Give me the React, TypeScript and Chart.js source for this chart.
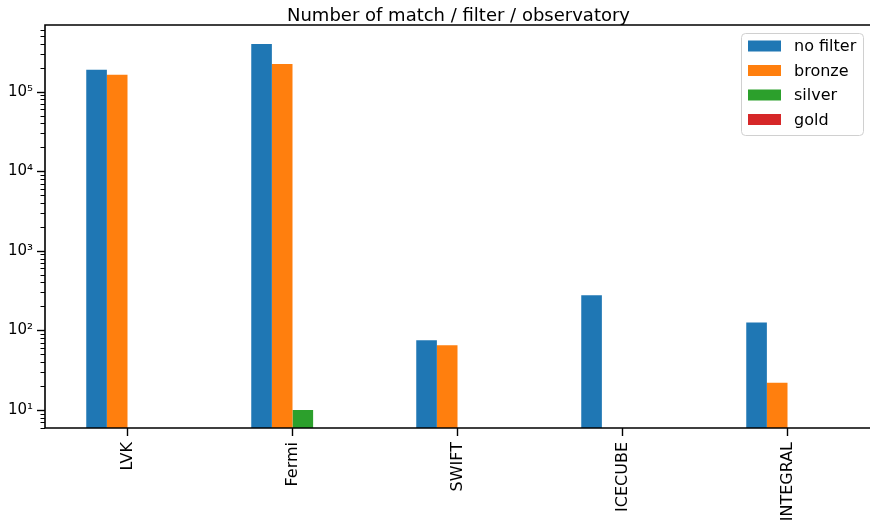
import React, { useEffect, useRef } from 'react';
import { Chart, registerables } from 'chart.js';

Chart.register(...registerables);

const categories = ['LVK', 'Fermi', 'SWIFT', 'ICECUBE', 'INTEGRAL'];
const noFilter = [189000, 396000, 75, 276, 126];
const bronze = [163000, 222000, 65, null, 22];
const silver = [null, 10, null, null, null];
const gold = [null, null, null, null, null];
const seriesNames = ['no filter', 'bronze', 'silver', 'gold'];
const seriesColors = ['#1f77b4', '#ff7f0e', '#2ca02c', '#d62728'];
const yMin = 5.94;
const yMax = 688000;
const chartTitle = 'Number of match / filter / observatory';

const FONT = '"DejaVu Sans", sans-serif';
const SUP: Record<string, string> = { '0': '⁰', '1': '¹', '2': '²', '3': '³', '4': '⁴', '5': '⁵', '6': '⁶', '7': '⁷', '8': '⁸', '9': '⁹', '-': '⁻' };

const isPow10 = (v: number) => {
  const l = Math.log10(v);
  return Math.abs(Math.round(l) - l) < 1e-9;
};

const decorPlugin = {
  id: 'decor',
  afterDraw(chart: any) {
    const ctx = chart.ctx;
    const { left, right, top, bottom } = chart.chartArea;
    ctx.save();
    ctx.strokeStyle = '#000';
    // y ticks
    const ys = chart.scales.y;
    ys.ticks.forEach((t: any) => {
      const p = Math.round(ys.getPixelForValue(t.value)) + 0.5;
      const major = isPow10(t.value);
      ctx.lineWidth = major ? 1.4 : 1;
      ctx.beginPath();
      ctx.moveTo(left - (major ? 8 : 4.5), p);
      ctx.lineTo(left, p);
      ctx.stroke();
    });
    // x ticks
    const xs = chart.scales.x;
    xs.ticks.forEach((_t: any, i: number) => {
      const p = xs.getPixelForTick(i);
      ctx.lineWidth = 1.4;
      ctx.beginPath();
      ctx.moveTo(p, bottom);
      ctx.lineTo(p, bottom + 8);
      ctx.stroke();
    });
    // spines
    ctx.lineWidth = 1.6;
    ctx.beginPath();
    ctx.moveTo(right, top);
    ctx.lineTo(left, top);
    ctx.lineTo(left, bottom);
    ctx.lineTo(right, bottom);
    ctx.stroke();
    // title
    ctx.fillStyle = '#000';
    ctx.font = `18px ${FONT}`;
    ctx.textAlign = 'center';
    ctx.textBaseline = 'alphabetic';
    ctx.fillText(chartTitle, (left + right) / 2 + 1, top - 4.5);
    // legend
    const bx = right - 129, by = top + 8, bw = 122, bh = 102;
    ctx.beginPath();
    if (ctx.roundRect) ctx.roundRect(bx + 0.5, by + 0.5, bw, bh, 4);
    else ctx.rect(bx + 0.5, by + 0.5, bw, bh);
    ctx.fillStyle = 'rgba(255,255,255,0.8)';
    ctx.fill();
    ctx.strokeStyle = '#d0d0d0';
    ctx.lineWidth = 1;
    ctx.stroke();
    ctx.font = `16px ${FONT}`;
    ctx.textAlign = 'left';
    ctx.textBaseline = 'middle';
    seriesNames.forEach((name, i) => {
      const cy = by + 13 + i * 24.5;
      ctx.fillStyle = seriesColors[i];
      ctx.fillRect(bx + 7, cy - 5.5, 33, 11);
      ctx.fillStyle = '#000';
      ctx.fillText(name, bx + 53, cy + 1);
    });
    ctx.restore();
  },
};

export default function App() {
  const ref = useRef<HTMLCanvasElement | null>(null);
  useEffect(() => {
    if (!ref.current) return;
    const data = [noFilter, bronze, silver, gold];
    const chart = new Chart(ref.current, {
      type: 'bar',
      data: {
        labels: categories,
        datasets: seriesNames.map((n, i) => ({
          label: n,
          data: data[i] as any,
          backgroundColor: seriesColors[i],
          borderWidth: 0,
          categoryPercentage: 0.5,
          barPercentage: 1.0,
        })),
      },
      options: {
        responsive: false,
        animation: false,
        devicePixelRatio: 1,
        layout: { padding: { top: 25, right: 0, left: 0, bottom: 0 } },
        plugins: {
          legend: { display: false },
          title: { display: false },
          tooltip: { enabled: false },
        },
        scales: {
          x: {
            type: 'category',
            offset: true,
            grid: { display: false, drawTicks: false },
            border: { display: false },
            ticks: {
              color: '#000',
              font: { family: FONT, size: 16 },
              minRotation: 90,
              maxRotation: 90,
              padding: 14,
              autoSkip: false,
            },
            afterFit(scale: any) {
              scale.height = 97;
              scale.paddingLeft = 0;
              scale.paddingRight = 0;
            },
          },
          y: {
            type: 'logarithmic',
            min: yMin,
            max: yMax,
            grid: { display: false, drawTicks: false },
            border: { display: false },
            afterBuildTicks(scale: any) {
              const ticks: any[] = [];
              for (let e = 0; e <= 6; e++) {
                for (let m = 1; m <= 9; m++) {
                  const v = m * Math.pow(10, e);
                  if (v >= scale.min && v <= scale.max) ticks.push({ value: v });
                }
              }
              scale.ticks = ticks;
            },
            ticks: {
              color: '#000',
              font: { family: FONT, size: 15 },
              padding: 12,
              autoSkip: false,
              callback: (value: any) => {
                const v = Number(value);
                if (!isPow10(v)) return '';
                const e = String(Math.round(Math.log10(v)));
                return '10' + e.split('').map((c) => SUP[c]).join('');
              },
            },
            afterFit(scale: any) {
              scale.width = 45;
              scale.paddingTop = 0;
              scale.paddingBottom = 0;
            },
          },
        },
      },
      plugins: [decorPlugin],
    });
    return () => chart.destroy();
  }, []);
  return (
    <div style={{ position: 'absolute', left: 0, top: 0, width: 870, height: 525, background: '#fff' }}>
      <canvas ref={ref} width={870} height={525} />
    </div>
  );
}
